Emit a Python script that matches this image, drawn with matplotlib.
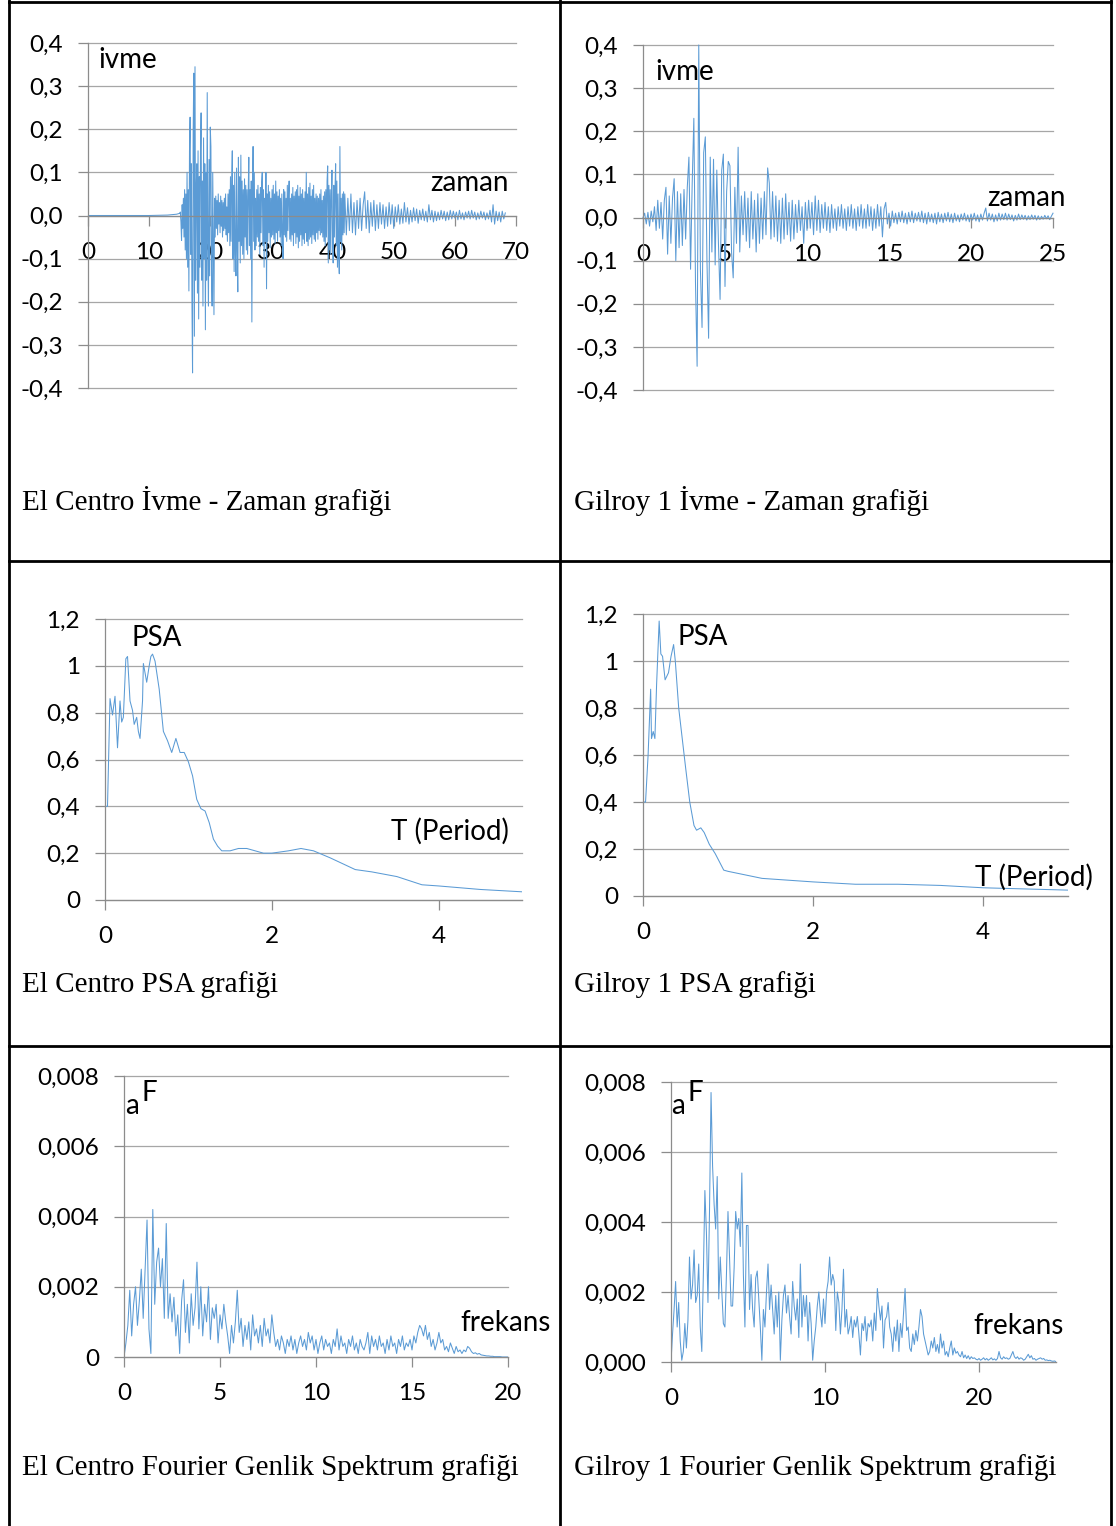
import numpy as np
import matplotlib
matplotlib.use("Agg")
import matplotlib.pyplot as plt
from matplotlib.lines import Line2D

# ---- El Centro acceleration record (g) ----
ec_pre_t = [0.0, 10.0, 13.0, 14.5, 15.0]
ec_pre_acc = [0.0, 0.0, 0.001, 0.003, 0.005]
# strong part, 0.1 s step from 15.1 s, in 0.001 g
ec_acc_a = [
    8, -15, -58, 25, -30, 40, -50, 60, -80, 50,
    -100, 100, -120, 60, -175, 150, 228, -90, 120, -200,
    -365, 190, 330, -280, 345, -150, 60, 120, -180, 150,
    -240, 90, -120, 150, 238, -150, 80, -210, 180, -100,
    120, -265, 100, -150, 285, -80, -210, 130, -140, 205,
    160, -120, -210, 100, -60, -230, 40, -50, 45, -30,
    35, -45, 50, -20, 30, -40, 45, -25, 35, -50,
    30, -35, 40, -30, 50, -45, 20, -60, 50, -40,
    60, -70, 90, -60, 80, 150, -100, 70, -130, 100,
    -90, -140, 110, -80, -177, 135, -60, 90, -110, 140,
    -70, 80, -90, 60, -100, 85, -50, 70, -80, 60,
    -90, 50, 135, -70, 60, -100, 80, -247, 60, 160,
    -60, 100, -80, 40, -70, 60, -50, 70, -60, 50,
    -90, 65, -40, 75, 100, -70, 60, -120, 40, -60,
    100, -170, 50, -60, 70, -40, 55, -75, 40, -50,
    60, -45, 70, -55, 50, -65, 80, -40, 55, -60,
    45, -35, 60, -50, 40, -70, 50, -40, -100, 60,
    -45, 55, -50, 40, -60, 70, -35, 50, 80, -55,
    40, -60, 50, -45, 65, -70, 45, -40, 55, -65,
    60, -50, 70, -75, 45, -60, 65, -45, 50, -70,
    60, -55, 40, -65, 55, -40, 100, -60, 50, -70,
    65, -55, 75, -50, 45, -65, 60, -45, 70, -55,
    40, -60, 50, -40, 45, -55, 40, -35, 50, -45,
    60, -40, 35, -50, 45, -60, 55, -70, 60, -50,
    80, 115, -110, 70, -80, 60, -90, 50, 105, -60,
    -110, 70, -50, 60, 120, -70, 80, -120, 50, -90,
    -135, 160, -60, 40, -80, 50, -45, 55, -40, 50,
]
# coda, 0.25 s step from 42.25 s, in 0.001 g
ec_acc_b = [
    -45, 40, -35, 50, -40, 30, -45, 35, -30, 40, -35, 25, 55, -30, 35, -40,
    30, -25, 35, -35, 25, -30, 30, -20, 25, -30, 20, -25, 30, -20, 25, -30,
    20, -15, 25, -20, 15, -18, 30, -15, 18, -20, 12, -15, 18, -12, 15, -18,
    12, -10, 15, -12, 10, -15, 25, -10, 12, -15, 10, -12, 8, -10, 12, -8,
    10, -12, 8, -10, 12, -8, 10, -6, 8, -10, 12, -8, 6, -10, 8, -6,
    10, -8, 12, -6, 8, -10, 6, -8, 10, -6, 8, -10, 6, -8, 12, -15,
    25, -20, 10, -12, 8, -15, 10, -8, 6,
]

# ---- Gilroy 1 acceleration record, 0.1 s step from 0 s, in 0.001 g ----
gil_acc = [
    0, 10, -15, 12, -20, 15, -10, 25, -30, 40,
    -25, 35, -50, 40, 70, -85, 50, -60, 45, 90,
    -100, 60, -70, 55, -65, 65, -50, 70, 140, -120,
    80, 230, -150, -345, 400, -120, -255, 150, 187, -100,
    -280, 140, -80, 135, -110, 110, -60, -190, 110, 147,
    -160, 60, 130, 120, -80, -140, 70, -60, 163, -80,
    50, -40, 60, -55, 45, -70, 60, -50, 40, -80,
    55, -60, 45, -50, 60, -40, 115, 80, -50, 60,
    -45, 50, -55, 40, -60, 45, -50, 55, -40, 35,
    -55, 40, -50, 30, -35, 40, -30, 25, -60, 35,
    -30, 40, -25, 35, -40, 50, -30, 40, -35, 30,
    -25, 35, -30, 25, -35, 30, -25, 20, -30, 25,
    -20, 30, -25, 20, -30, 25, -20, 30, -25, 20,
    -30, 25, -20, 30, -25, 20, -25, 30, -20, 25,
    -30, 20, -25, 30, -20, 25, -45, 20, 35, -15,
    10, -20, 15, -12, 10, -15, 12, -10, 15, -12,
    10, -15, 12, -10, 15, -12, 10, -8, 12, -10,
    15, -12, 10, -15, 12, -10, 8, -12, 10, -15,
    12, -10, 8, -12, 10, -8, 12, -10, 8, -12,
    10, -8, 6, -10, 8, -6, 10, -8, 6, -10,
    8, -6, 10, -8, 6, -10, 8, -6, 10, 22,
    -8, 10, -6, 8, -10, 6, -8, 10, -6, 8,
    -5, 10, -6, 8, -5, 6, -8, 5, -6, 8,
    -5, 6, -4, 5, -6, 4, -5, 6, -4, 5,
    -6, 4, -5, 3, -4, 5, -3, 4, -5, 3,
    10,
]

# ---- pseudo spectral acceleration (g) vs period T (s) ----
ec_T = [0, 0.03, 0.06, 0.09, 0.12, 0.15, 0.18, 0.2, 0.22, 0.25, 0.27, 0.3,
        0.33, 0.35, 0.38, 0.4, 0.42, 0.45, 0.46, 0.5, 0.53, 0.55, 0.57, 0.6,
        0.65, 0.7, 0.75, 0.8, 0.85, 0.9, 0.95, 1.0, 1.05, 1.1, 1.15, 1.2,
        1.25, 1.3, 1.35, 1.4, 1.5, 1.6, 1.7, 1.8, 1.9, 2.0, 2.2, 2.35, 2.5,
        2.7, 3.0, 3.2, 3.5, 3.8, 4.0, 4.5, 5.0]
ec_psa = [0.40, 0.40, 0.86, 0.79, 0.87, 0.65, 0.85, 0.76, 0.78, 1.03, 1.04,
          0.85, 0.81, 0.75, 0.78, 0.72, 0.69, 0.85, 1.01, 0.93, 1.00, 1.04,
          1.05, 1.02, 0.90, 0.72, 0.68, 0.63, 0.69, 0.63, 0.63, 0.59, 0.53,
          0.43, 0.39, 0.38, 0.33, 0.26, 0.23, 0.21, 0.21, 0.22, 0.22, 0.21,
          0.20, 0.20, 0.21, 0.22, 0.21, 0.18, 0.13, 0.12, 0.10, 0.065, 0.06,
          0.045, 0.035]
gil_T = [0, 0.03, 0.06, 0.09, 0.1, 0.12, 0.14, 0.16, 0.19, 0.21, 0.23, 0.26,
         0.3, 0.33, 0.36, 0.38, 0.42, 0.5, 0.55, 0.6, 0.63, 0.68, 0.72, 0.78,
         0.85, 0.95, 1.0, 1.2, 1.4, 1.8, 2.0, 2.5, 3.0, 3.5, 4.0, 4.5, 5.0]
gil_psa = [0.40, 0.40, 0.60, 0.88, 0.67, 0.70, 0.67, 0.90, 1.17, 1.03, 1.02,
           0.92, 0.95, 1.02, 1.07, 1.00, 0.80, 0.55, 0.40, 0.30, 0.28, 0.29,
           0.27, 0.22, 0.18, 0.11, 0.105, 0.09, 0.075, 0.065, 0.06, 0.05,
           0.05, 0.045, 0.035, 0.03, 0.025]

# ---- Fourier amplitude spectra, 0.1 Hz step from 0 Hz, in 1e-5 ----
ec_fas = [
    0, 40, 90, 190, 60, 150, 200, 90, 160, 250,
    110, 250, 390, 80, 10, 420, 150, 270, 310, 200,
    280, 110, 380, 110, 180, 100, 170, 60, 120, 10,
    160, 220, 70, 150, 40, 180, 90, 140, 270, 80,
    200, 60, 150, 100, 200, 50, 140, 110, 150, 40,
    120, 80, 150, 100, 60, 10, 90, 40, 100, 190,
    70, 110, 30, 90, 50, 100, 20, 120, 60, 80,
    40, 90, 30, 110, 60, 80, 40, 120, 70, 30,
    50, 20, 60, 40, 10, 50, 30, 60, 20, 50,
    10, 40, 60, 30, 50, 20, 70, 40, 60, 20,
    50, 10, 40, 60, 20, 50, 30, 40, 10, 50,
    30, 80, 20, 60, 30, 40, 10, 50, 30, 60,
    20, 40, 10, 50, 30, 20, 40, 70, 10, 60,
    30, 50, 20, 60, 30, 40, 10, 50, 20, 60,
    30, 40, 10, 50, 30, 60, 20, 40, 30, 50,
    20, 60, 40, 70, 90, 80, 60, 90, 50, 70,
    30, 50, 20, 40, 70, 40, 50, 20, 30, 15,
    40, 25, 10, 30, 15, 20, 10, 20, 15, 30,
    25, 15, 10, 12, 8, 10, 6, 5, 4, 3,
    3, 2, 2, 1, 1, 1, 1, 0, 0, 0,
    0,
]
gil_fas = [
    0, 80, 150, 230, 100, 170, 60, 5, 30, 110,
    40, 120, 300, 180, 220, 320, 170, 190, 280, 100,
    30, 250, 490, 370, 170, 430, 770, 560, 450, 380,
    530, 180, 300, 200, 110, 100, 250, 430, 300, 160,
    160, 270, 430, 380, 410, 330, 540, 250, 100, 390,
    390, 150, 250, 150, 100, 240, 260, 180, 100, 5,
    150, 100, 200, 280, 150, 220, 150, 80, 190, 100,
    200, 5, 120, 190, 220, 140, 190, 130, 80, 230,
    160, 120, 180, 70, 280, 100, 190, 130, 190, 60,
    170, 110, 5, 60, 100, 160, 200, 140, 100, 180,
    110, 200, 230, 300, 220, 250, 230, 90, 200, 170,
    80, 150, 265, 100, 150, 80, 100, 130, 70, 120,
    100, 130, 80, 20, 110, 90, 130, 60, 110, 100,
    120, 60, 140, 90, 210, 160, 120, 160, 40, 120,
    130, 170, 100, 80, 30, 100, 60, 120, 30, 110,
    70, 140, 210, 90, 100, 40, 30, 80, 50, 90,
    60, 100, 150, 130, 80, 60, 40, 20, 30, 60,
    40, 70, 30, 50, 25, 80, 40, 60, 20, 30,
    15, 40, 60, 20, 40, 25, 30, 20, 15, 30,
    12, 20, 10, 18, 8, 15, 10, 12, 8, 6,
    10, 5, 8, 12, 6, 10, 5, 8, 12, 6,
    9, 5, 10, 30, 12, 8, 15, 10, 12, 8,
    10, 20, 30, 15, 10, 15, 8, 12, 10, 5,
    8, 15, 22, 12, 18, 8, 10, 5, 8, 10,
    12, 8, 10, 5, 6, 4, 5, 3, 2, 3,
    1,
]

# captions under each chart
captions = ["El Centro İvme - Zaman grafiği", "Gilroy 1 İvme - Zaman grafiği",
            "El Centro PSA grafiği", "Gilroy 1 PSA grafiği",
            "El Centro Fourier Genlik Spektrum grafiği",
            "Gilroy 1 Fourier Genlik Spektrum grafiği"]

W, H = 1116, 1526
LINE = "#5b9bd5"
GRID = "#a6a6a6"
AXIS = "#8c8c8c"
TICK_FS = 17.5
NOTE_FS = 20
CAP_FS = 21

plt.rcParams["font.family"] = ["Lato", "DejaVu Sans"]
fig = plt.figure(figsize=(W / 100, H / 100), dpi=100)


def fx(px):
    return px / W


def fy(py):
    return 1 - py / H


def comma(v, nd):
    return f"{v:.{nd}f}".replace(".", ",")


def panel(box, xlim, yticks, ylabels, xticks, axis_at_zero=False):
    x0, y0, x1, y1 = box
    ax = fig.add_axes([fx(x0), fy(y1), fx(x1) - fx(x0), fy(y0) - fy(y1)])
    ax.set_xlim(*xlim)
    ax.set_ylim(yticks[0], yticks[-1])
    ax.patch.set_alpha(0)
    for s in ("top", "right"):
        ax.spines[s].set_visible(False)
    for s in ("left", "bottom"):
        ax.spines[s].set_color(AXIS)
        ax.spines[s].set_linewidth(0.9)
    if axis_at_zero:
        ax.spines["bottom"].set_position(("data", 0))
    for v in yticks:
        ax.axhline(v, color=GRID, lw=0.9, zorder=0, clip_on=False)
    ax.set_yticks(yticks, labels=ylabels)
    ax.set_xticks(xticks, labels=[str(int(v)) for v in xticks])
    ax.tick_params(axis="both", direction="out", length=7, width=0.9,
                   colors=AXIS, labelcolor="black", labelsize=TICK_FS)
    ax.tick_params(axis="y", pad=11)
    ax.tick_params(axis="x", pad=12)
    return ax


def note(px, py, s, size=NOTE_FS):
    fig.text(fx(px), fy(py), s, fontsize=size, ha="left", va="center")


# --- row 1: acceleration records ---
acc_ticks = [-0.4, -0.3, -0.2, -0.1, 0.0, 0.1, 0.2, 0.3, 0.4]
acc_labels = [comma(v, 1) for v in acc_ticks]

ax = panel((88, 43, 516, 388), (0, 70), acc_ticks, acc_labels,
           range(0, 71, 10), axis_at_zero=True)
t_a = 15.1 + 0.1 * np.arange(len(ec_acc_a))
t_b = 42.25 + 0.25 * np.arange(len(ec_acc_b))
ec_t = np.concatenate([ec_pre_t, t_a, t_b])
ec_acc = np.concatenate([ec_pre_acc, np.array(ec_acc_a) / 1000, np.array(ec_acc_b) / 1000])
ax.plot(ec_t, ec_acc, color=LINE, lw=0.75)
note(98, 60, "ivme")
note(430, 183, "zaman")

ax = panel((643, 45, 1053, 390), (0, 25), acc_ticks, acc_labels,
           range(0, 26, 5), axis_at_zero=True)
gil_t = 0.1 * np.arange(len(gil_acc))
ax.plot(gil_t, np.array(gil_acc) / 1000, color=LINE, lw=0.75, clip_on=False)
note(655, 72, "ivme")
note(987, 198, "zaman")

# --- row 2: PSA ---
psa_ticks = [0, 0.2, 0.4, 0.6, 0.8, 1.0, 1.2]
psa_labels = ["0", "0,2", "0,4", "0,6", "0,8", "1", "1,2"]

ax = panel((105, 619, 522, 900), (0, 5), psa_ticks, psa_labels, [0, 2, 4])
ax.plot(ec_T, ec_psa, color=LINE, lw=0.75)
note(131, 638, "PSA")
note(391, 831, "T (Period)")

ax = panel((643, 614, 1068, 896), (0, 5), psa_ticks, psa_labels, [0, 2, 4])
ax.plot(gil_T, gil_psa, color=LINE, lw=0.75)
note(678, 637, "PSA")
note(975, 877, "T (Period)")

# --- row 3: Fourier amplitude spectra ---
fas_ticks = [0, 0.002, 0.004, 0.006, 0.008]

ax = panel((124, 1076, 508, 1357), (0, 20), fas_ticks,
           ["0"] + [comma(v, 3) for v in fas_ticks[1:]], range(0, 21, 5))
ax.plot(0.1 * np.arange(len(ec_fas)), np.array(ec_fas) * 1e-5, color=LINE, lw=0.75)
note(125, 1106, "a")
note(142, 1093, "F")
note(460, 1323, "frekans")

ax = panel((671, 1082, 1056, 1362), (0, 25), fas_ticks,
           [comma(v, 3) for v in fas_ticks], [0, 10, 20])
ax.plot(0.1 * np.arange(len(gil_fas)), np.array(gil_fas) * 1e-5, color=LINE, lw=0.75)
note(671, 1106, "a")
note(688, 1093, "F")
note(973, 1326, "frekans")

# --- captions and table frame ---
cap_pos = [(22, 501), (574, 501), (22, 985), (574, 985), (22, 1468), (574, 1468)]
for (px, py), s in zip(cap_pos, captions):
    fig.text(fx(px), fy(py), s, fontsize=CAP_FS, family="Liberation Serif",
             ha="left", va="center")

frame = [((8.5, 8.5), (0, H)), ((560, 560), (0, H)), ((1111, 1111), (0, H)),
         ((8.5, 1111), (1.5, 1.5)), ((8.5, 1111), (561, 561)),
         ((8.5, 1111), (1046, 1046))]
for xs, ys in frame:
    fig.add_artist(Line2D([fx(x) for x in xs], [fy(y) for y in ys],
                          color="black", lw=2.0))

fig.savefig("out.png", dpi=100)
